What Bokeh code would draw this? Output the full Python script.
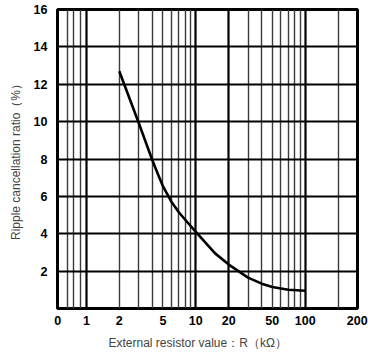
from bokeh.plotting import figure
from bokeh.models import FixedTicker, Grid, Title, Range1d
from bokeh.embed import file_html
from bokeh.resources import INLINE

# Data
resistance_kohm = [2, 3, 4, 4.5, 5, 6, 7, 8, 10, 15, 20, 30, 40, 50, 70, 100]
ripple_pct = [12.7, 9.95, 7.95, 7.2, 6.55, 5.7, 5.15, 4.75, 4.1, 2.95, 2.35,
              1.65, 1.33, 1.15, 1.0, 0.95]

x_tick_values = [0.548, 1, 2, 5, 10, 20, 50, 100, 298]
x_tick_labels = ["0", "1", "2", "5", "10", "20", "50", "100", "200"]
y_tick_values = [2, 4, 6, 8, 10, 12, 14, 16]

x_grid_major = [1, 10, 20, 100]
x_grid_minor = [0.67, 0.77, 0.88, 2, 3, 4, 5, 6, 7, 8, 9,
                30, 40, 50, 60, 70, 80, 90, 200]
y_grid = [2, 4, 6, 8, 10, 12, 14]

FONT = "Liberation Sans"

p = figure(width=368, height=356, x_axis_type="log",
           x_range=Range1d(0.545, 300), y_range=Range1d(0, 16),
           output_backend="svg", toolbar_location=None,
           min_border_left=57, min_border_right=11,
           min_border_top=9, min_border_bottom=47)

p.background_fill_color = "white"
p.border_fill_color = "white"
p.outline_line_color = "black"
p.outline_line_width = 3

p.xgrid.visible = False
p.ygrid.visible = False

p.add_layout(Grid(dimension=0, ticker=FixedTicker(ticks=x_grid_minor),
                  grid_line_color="#3a3a3a", grid_line_width=1.4))
p.add_layout(Grid(dimension=0, ticker=FixedTicker(ticks=x_grid_major),
                  grid_line_color="black", grid_line_width=2.2))
p.add_layout(Grid(dimension=1, ticker=FixedTicker(ticks=y_grid),
                  grid_line_color="black", grid_line_width=2))

p.line(resistance_kohm, ripple_pct, line_color="black", line_width=2.6,
       line_join="round")

xa = p.xaxis[0]
xa.ticker = FixedTicker(ticks=x_tick_values)
xa.major_label_overrides = {v: l for v, l in zip(x_tick_values, x_tick_labels)}
ya = p.yaxis[0]
ya.ticker = FixedTicker(ticks=y_tick_values)

for ax in (xa, ya):
    ax.axis_line_color = None
    ax.major_tick_line_color = None
    ax.minor_tick_line_color = None
    ax.major_label_text_font = FONT
    ax.major_label_text_font_style = "bold"
    ax.major_label_text_font_size = "12.5px"
    ax.major_label_text_color = "black"
ya.major_label_standoff = 4
xa.major_label_standoff = 1

ya.axis_label = "Ripple cancellation ratio（%）"
ya.axis_label_text_font = FONT
ya.axis_label_text_font_style = "normal"
ya.axis_label_text_font_size = "12px"
ya.axis_label_standoff = 8

p.add_layout(Title(text="External resistor value：R（kΩ）", align="left",
                   offset=51, text_font=FONT, text_font_style="normal",
                   text_font_size="12px", standoff=13), "below")

open("out.html", "w").write(file_html(p, INLINE))
